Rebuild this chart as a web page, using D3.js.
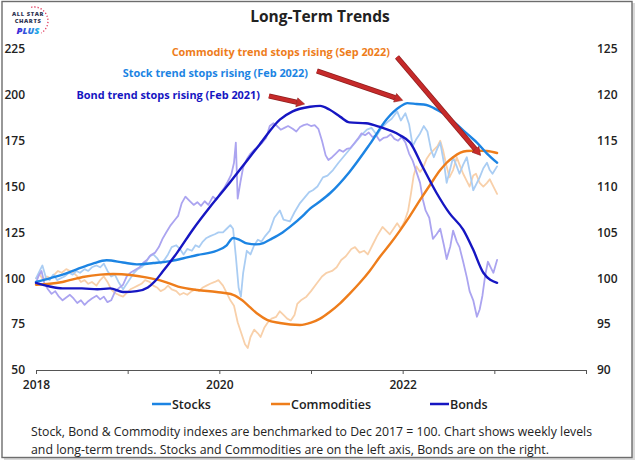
<!DOCTYPE html>
<html><head><meta charset="utf-8">
<script src="https://cdn.jsdelivr.net/npm/d3@7"></script>
<style>body{margin:0;background:#fff}svg{display:block}text{font-family:"Open Sans",sans-serif}</style>
</head><body><svg id="c" width="640" height="466"></svg>
<script>
// ---------- DATA (decimal year, index level; Dec 2017 = 100) ----------
const stocksWeekly = [[2018.00,100],[2018.04,104],[2018.07,107],[2018.11,100],[2018.15,99],[2018.19,102],[2018.23,99],[2018.27,100],[2018.31,101],[2018.36,103],[2018.40,102],[2018.44,104],[2018.48,103],[2018.53,105],[2018.57,104],[2018.61,106],[2018.66,107],[2018.70,106],[2018.74,108],[2018.78,104],[2018.82,101],[2018.86,102],[2018.90,98],[2018.95,94],[2018.99,97],[2019.03,100],[2019.07,103],[2019.11,105],[2019.15,106],[2019.19,108],[2019.24,112],[2019.28,113],[2019.32,111],[2019.36,108],[2019.40,110],[2019.44,113],[2019.48,117],[2019.53,118],[2019.57,116],[2019.61,113],[2019.65,116],[2019.70,115],[2019.74,118],[2019.78,117],[2019.82,120],[2019.86,122],[2019.90,123],[2019.95,124],[2019.99,125],[2020.04,125],[2020.08,127],[2020.12,129],[2020.15,127],[2020.18,112],[2020.21,95],[2020.235,90],[2020.26,103],[2020.30,115],[2020.34,113],[2020.38,118],[2020.42,121],[2020.46,120],[2020.50,123],[2020.55,126],[2020.60,133],[2020.66,137],[2020.70,132],[2020.77,131],[2020.82,136],[2020.88,141],[2020.93,144],[2020.98,147],[2021.02,148],[2021.07,150],[2021.13,155],[2021.18,156],[2021.24,159],[2021.30,163],[2021.35,166],[2021.40,169],[2021.45,172],[2021.50,175],[2021.55,178],[2021.61,181],[2021.66,182],[2021.72,178],[2021.77,182],[2021.83,185],[2021.88,187],[2021.94,191],[2021.98,186],[2022.03,190],[2022.07,184],[2022.11,172],[2022.15,176],[2022.19,179],[2022.23,183],[2022.27,180],[2022.31,170],[2022.34,166],[2022.38,171],[2022.41,174],[2022.45,163],[2022.48,152],[2022.52,160],[2022.55,166],[2022.59,161],[2022.62,157],[2022.66,162],[2022.70,166],[2022.74,156],[2022.77,148],[2022.80,151],[2022.84,155],[2022.88,160],[2022.92,163],[2022.95,159],[2022.98,157],[2023.03,161]];

const stocksTrend = [[2018.00,98],[2018.15,100],[2018.29,102],[2018.45,105],[2018.62,108],[2018.77,109.8],[2018.95,108.6],[2019.10,107.6],[2019.28,108.3],[2019.45,109.2],[2019.60,110.8],[2019.76,112.7],[2019.97,115],[2020.08,118],[2020.15,122],[2020.22,121],[2020.30,119],[2020.40,118.5],[2020.48,119.2],[2020.55,121],[2020.69,125],[2020.77,128],[2020.91,134],[2020.99,138],[2021.10,142],[2021.21,146.5],[2021.42,158],[2021.64,173],[2021.83,187],[2021.97,193.5],[2022.05,195.5],[2022.15,195],[2022.26,194.5],[2022.35,192.5],[2022.44,190],[2022.53,186.5],[2022.62,182.5],[2022.72,178],[2022.81,174],[2022.92,168],[2023.03,163]];

const commoditiesWeekly = [[2018.00,100],[2018.04,102],[2018.08,99],[2018.12,101],[2018.16,100],[2018.20,102],[2018.24,104],[2018.28,103],[2018.33,105],[2018.37,104],[2018.41,103],[2018.45,101],[2018.49,98],[2018.53,99],[2018.57,97],[2018.61,98],[2018.66,96],[2018.70,99],[2018.74,101],[2018.78,98],[2018.82,94],[2018.86,92],[2018.90,91],[2018.95,90],[2018.99,92],[2019.03,94],[2019.07,95],[2019.11,96],[2019.15,97],[2019.19,99],[2019.24,98],[2019.28,96],[2019.32,95],[2019.36,93],[2019.40,94],[2019.44,96],[2019.48,94],[2019.53,93],[2019.57,91],[2019.61,92],[2019.65,91],[2019.70,93],[2019.74,94],[2019.78,93],[2019.82,95],[2019.86,96],[2019.90,97],[2019.95,98],[2019.99,99],[2020.04,96],[2020.08,92],[2020.12,88],[2020.16,85],[2020.20,76],[2020.24,70],[2020.28,64],[2020.31,62],[2020.34,68],[2020.38,72],[2020.42,70],[2020.45,68],[2020.49,73],[2020.53,76],[2020.57,78],[2020.62,79],[2020.66,82],[2020.70,80],[2020.74,78],[2020.78,77],[2020.82,80],[2020.85,86],[2020.89,88],[2020.95,90],[2021.00,93],[2021.06,97],[2021.12,101],[2021.17,103],[2021.23,104],[2021.28,106],[2021.33,110],[2021.38,112],[2021.44,116],[2021.48,117],[2021.53,114],[2021.58,115],[2021.62,113],[2021.67,118],[2021.72,123],[2021.78,128],[2021.82,126],[2021.86,124],[2021.90,127],[2021.94,130],[2021.98,127],[2022.02,131],[2022.06,137],[2022.09,146],[2022.12,156],[2022.15,161],[2022.19,158],[2022.22,160],[2022.26,165],[2022.30,168],[2022.34,170],[2022.38,172],[2022.41,175],[2022.44,170],[2022.47,163],[2022.51,155],[2022.55,159],[2022.59,166],[2022.62,162],[2022.66,157],[2022.70,153],[2022.73,150],[2022.77,156],[2022.80,157],[2022.84,152],[2022.88,150],[2022.92,152],[2022.95,154],[2022.99,150],[2023.03,146]];

const commoditiesTrend = [[2018.00,96.5],[2018.15,97],[2018.29,98],[2018.51,100.7],[2018.70,102],[2018.84,102.3],[2019.03,101.8],[2019.20,100.5],[2019.38,98.5],[2019.55,95.5],[2019.76,93.6],[2019.97,92.5],[2020.15,91],[2020.25,88],[2020.33,84.4],[2020.42,80.5],[2020.52,77.3],[2020.66,75.6],[2020.88,74.5],[2021.00,75.8],[2021.10,78],[2021.20,81.5],[2021.32,86.5],[2021.42,91.5],[2021.53,97.4],[2021.64,104],[2021.75,111.6],[2021.86,118.5],[2021.97,126],[2022.08,134],[2022.19,142.7],[2022.30,151],[2022.41,159],[2022.48,163],[2022.55,166],[2022.63,168.5],[2022.70,169.4],[2022.80,169.6],[2022.92,169.4],[2023.03,168.3]];

const bondsWeekly = [[2018.00,99.5],[2018.03,100.3],[2018.06,100.8],[2018.09,99.5],[2018.13,98.8],[2018.17,98.3],[2018.21,98.6],[2018.25,98.0],[2018.29,97.6],[2018.33,97.9],[2018.37,98.2],[2018.41,97.8],[2018.45,97.3],[2018.49,97.6],[2018.53,97.1],[2018.57,97.5],[2018.61,97.8],[2018.66,98.1],[2018.70,97.7],[2018.74,98.0],[2018.78,97.4],[2018.82,97.6],[2018.86,98.5],[2018.90,98.9],[2018.95,99.3],[2018.99,100.2],[2019.03,100.6],[2019.08,100.9],[2019.13,101.2],[2019.17,101.7],[2019.21,102.0],[2019.25,102.5],[2019.30,102.8],[2019.34,103.4],[2019.38,104.3],[2019.42,105.0],[2019.47,105.8],[2019.51,106.3],[2019.55,106.8],[2019.59,108.2],[2019.63,108.9],[2019.67,108.5],[2019.72,108.0],[2019.76,108.3],[2019.80,107.9],[2019.84,108.4],[2019.88,108.0],[2019.93,108.9],[2019.97,108.6],[2020.01,109.3],[2020.05,109.8],[2020.09,110.5],[2020.13,111.3],[2020.16,112.6],[2020.18,114.8],[2020.20,108.7],[2020.23,110.5],[2020.26,112.1],[2020.30,113.0],[2020.34,113.6],[2020.38,114.0],[2020.43,114.4],[2020.47,114.8],[2020.51,115.3],[2020.55,116.6],[2020.59,116.9],[2020.63,116.6],[2020.67,116.2],[2020.71,116.4],[2020.75,116.6],[2020.80,116.3],[2020.84,116.0],[2020.88,116.5],[2020.92,116.7],[2020.96,116.8],[2021.00,116.6],[2021.04,116.7],[2021.08,116.3],[2021.12,115.0],[2021.16,113.4],[2021.19,112.9],[2021.23,113.2],[2021.27,113.6],[2021.31,114.0],[2021.35,113.8],[2021.39,114.1],[2021.43,114.2],[2021.47,114.7],[2021.51,115.2],[2021.55,115.8],[2021.59,115.6],[2021.63,115.9],[2021.67,115.4],[2021.71,115.6],[2021.75,115.0],[2021.79,115.3],[2021.83,115.4],[2021.87,115.7],[2021.91,115.2],[2021.95,115.0],[2021.99,115.4],[2022.03,114.8],[2022.07,113.6],[2022.11,112.8],[2022.15,111.6],[2022.19,110.4],[2022.22,108.6],[2022.25,107.4],[2022.29,106.6],[2022.33,104.3],[2022.37,104.8],[2022.41,105.4],[2022.45,103.6],[2022.48,102.1],[2022.52,103.5],[2022.55,105.2],[2022.59,104.0],[2022.62,103.4],[2022.66,101.8],[2022.70,100.1],[2022.73,98.6],[2022.77,97.6],[2022.81,95.8],[2022.84,96.6],[2022.87,98.1],[2022.90,100.3],[2022.93,101.8],[2022.96,101.2],[2022.99,100.6],[2023.03,102.0]];

const bondsTrend = [[2018.00,99.5],[2018.15,99.1],[2018.29,98.9],[2018.50,98.9],[2018.67,98.8],[2018.81,98.9],[2018.95,98.5],[2019.10,98.6],[2019.22,99.0],[2019.30,99.7],[2019.38,100.7],[2019.54,102.8],[2019.71,105.3],[2019.90,107.8],[2020.08,110.0],[2020.26,112.3],[2020.44,114.6],[2020.66,117.3],[2020.80,118.2],[2020.99,118.7],[2021.10,118.8],[2021.20,118.4],[2021.32,117.6],[2021.42,117.0],[2021.60,116.9],[2021.75,116.5],[2021.97,115.6],[2022.08,114.8],[2022.22,112.1],[2022.37,109.3],[2022.51,107.1],[2022.66,105.3],[2022.77,103.1],[2022.88,100.6],[2023.03,99.5]];

const xTickYears = [2018, 2019, 2020, 2021, 2022, 2023, 2024];
const xLabelYears = [2018, 2020, 2022];
const leftTicks = [50, 75, 100, 125, 150, 175, 200, 225];
const rightTicks = [90, 95, 100, 105, 110, 115, 120, 125];
const legendNames = ["Stocks", "Commodities", "Bonds"];
const annotations = [
  {text: "Commodity trend stops rising (Sep 2022)", date: 2022.85, value: 167, axis: "L"},
  {text: "Stock trend stops rising (Feb 2022)", date: 2022.00, value: 197, axis: "L"},
  {text: "Bond trend stops rising (Feb 2021)", date: 2020.93, value: 119.0, axis: "R"}
];
const footnote = [
  "Stock, Bond & Commodity indexes are benchmarked to Dec 2017 = 100. Chart shows weekly levels",
  "and long-term trends. Stocks and Commodities are on the left axis, Bonds are on the right."
];

// ---------- STYLE ----------
const C = {
  stock: "#1C84E3", stockRaw: "#AACDF3",
  comm: "#EE7D1B", commRaw: "#F8D0AA",
  bond: "#1616C2", bondRaw: "#ABA4F0",
  arrow: "#C62A2A", text: "#222"
};

const svg = d3.select("#c");
// frame
svg.append("rect").attr("x", 4).attr("y", 3).attr("width", 631).attr("height", 457).attr("fill", "#d9d9d9");
svg.append("rect").attr("x", 2).attr("y", 1.5).attr("width", 630).attr("height", 456)
  .attr("fill", "#fff").attr("stroke", "#6d6d6d").attr("stroke-width", 1.4);

const x = d3.scaleLinear().domain([2018, 2024]).range([36, 586]);
const yL = d3.scaleLinear().domain([50, 225]).range([370, 49]);
const yR = d3.scaleLinear().domain([90, 125]).range([370, 49]);

// title
svg.append("text").attr("x", 320).attr("y", 22).attr("text-anchor", "middle")
  .attr("font-size", 15.5).attr("font-weight", 700).attr("fill", C.text).text("Long-Term Trends");

// logo
const logo = svg.append("g");
logo.append("text").attr("x", 28).attr("y", 15.5).attr("text-anchor", "middle").attr("font-size", 5.8)
  .attr("font-weight", 800).attr("fill", "#2f3553").attr("letter-spacing", 0.6).text("ALL STAR");
logo.append("text").attr("x", 28).attr("y", 22.5).attr("text-anchor", "middle").attr("font-size", 5.8)
  .attr("font-weight", 800).attr("fill", "#2f3553").attr("letter-spacing", 0.6).text("CHARTS");
const grad = svg.append("defs").append("linearGradient").attr("id", "pg");
grad.append("stop").attr("offset", "0%").attr("stop-color", "#3b1fd6");
grad.append("stop").attr("offset", "100%").attr("stop-color", "#1fb8e8");
logo.append("text").attr("x", 28).attr("y", 33.5).attr("text-anchor", "middle").attr("font-size", 9.5)
  .attr("font-weight", 800).attr("fill", "url(#pg)").attr("font-style", "italic").text("PLUS");
logo.append("path").attr("d", d3.arc()({innerRadius: 14, outerRadius: 14, startAngle: -0.2, endAngle: 2.6}))
  .attr("transform", "translate(34,21)").attr("fill", "none").attr("stroke", "#e0375a")
  .attr("stroke-width", 1.3).attr("stroke-dasharray", "1.2 2");

// axes
const xAxis = d3.axisBottom(x).tickValues(xTickYears).tickSize(4).tickSizeOuter(4).tickPadding(6)
  .tickFormat(d => xLabelYears.includes(d) ? String(d) : "");
const gx = svg.append("g").attr("transform", "translate(0,370)").call(xAxis);
gx.select(".domain").attr("stroke", "#555");
gx.selectAll(".tick line").attr("stroke", "#555");
gx.selectAll("text").attr("font-size", 12).attr("fill", C.text).attr("font-weight", 600)
  .attr("font-family", "'Open Sans',sans-serif");

const gl = svg.append("g").attr("transform", "translate(36,0)")
  .call(d3.axisLeft(yL).tickValues(leftTicks).tickSize(0).tickPadding(11));
const gr = svg.append("g").attr("transform", "translate(586,0)")
  .call(d3.axisRight(yR).tickValues(rightTicks).tickSize(0).tickPadding(11));
[gl, gr].forEach(g => {
  g.select(".domain").remove();
  g.selectAll("text").attr("font-size", 12).attr("fill", C.text).attr("font-weight", 600)
    .attr("font-family", "'Open Sans',sans-serif");
});

// lines
const lineL = d3.line().x(d => x(d[0])).y(d => yL(d[1]));
const lineR = d3.line().x(d => x(d[0])).y(d => yR(d[1]));
const smoothL = d3.line().x(d => x(d[0])).y(d => yL(d[1])).curve(d3.curveMonotoneX);
const smoothR = d3.line().x(d => x(d[0])).y(d => yR(d[1])).curve(d3.curveMonotoneX);

const plot = svg.append("g").attr("fill", "none").attr("stroke-linejoin", "round").attr("stroke-linecap", "round");
plot.append("path").attr("d", lineL(commoditiesWeekly)).attr("stroke", C.commRaw).attr("stroke-width", 1.8);
plot.append("path").attr("d", lineL(stocksWeekly)).attr("stroke", C.stockRaw).attr("stroke-width", 1.8);
plot.append("path").attr("d", lineR(bondsWeekly)).attr("stroke", C.bondRaw).attr("stroke-width", 1.8);
plot.append("path").attr("d", smoothL(commoditiesTrend)).attr("stroke", C.comm).attr("stroke-width", 2.4);
plot.append("path").attr("d", smoothL(stocksTrend)).attr("stroke", C.stock).attr("stroke-width", 2.4);
plot.append("path").attr("d", smoothR(bondsTrend)).attr("stroke", C.bond).attr("stroke-width", 2.4);

// annotations
const annColors = [C.comm, C.stock, C.bond];
const textPos = [[390, 56], [308, 77], [260, 99]];
const tails = [[397, 57], [317, 71], [269, 96]];
annotations.forEach((a, i) => {
  svg.append("text").attr("x", textPos[i][0]).attr("y", textPos[i][1]).attr("text-anchor", "end")
    .attr("font-size", 10.9).attr("font-weight", 700).attr("fill", annColors[i]).text(a.text);
  const tx = x(a.date), ty = (a.axis === "L" ? yL : yR)(a.value);
  const [sx, sy] = tails[i];
  const ang = Math.atan2(ty - sy, tx - sx);
  const hl = 8, hw = 4.5;
  const bx = tx - hl * Math.cos(ang), by = ty - hl * Math.sin(ang);
  svg.append("line").attr("x1", sx).attr("y1", sy).attr("x2", bx).attr("y2", by)
    .attr("stroke", "#8f1f1f").attr("stroke-width", 5.2).attr("stroke-linecap", "butt");
  svg.append("line").attr("x1", sx).attr("y1", sy).attr("x2", bx).attr("y2", by)
    .attr("stroke", C.arrow).attr("stroke-width", 3.8).attr("stroke-linecap", "butt");
  const px = -Math.sin(ang), py = Math.cos(ang);
  svg.append("polygon").attr("points", [[tx, ty], [bx + px * hw, by + py * hw], [bx - px * hw, by - py * hw]].map(p => p.join(",")).join(" "))
    .attr("fill", C.arrow).attr("stroke", "#8f1f1f").attr("stroke-width", 0.6);
});

// legend
const legX = [152, 271, 430];
const legColors = [C.stock, C.comm, C.bond];
legendNames.forEach((n, i) => {
  svg.append("line").attr("x1", legX[i]).attr("x2", legX[i] + 19).attr("y1", 404).attr("y2", 404)
    .attr("stroke", legColors[i]).attr("stroke-width", 2.5);
  svg.append("text").attr("x", legX[i] + 20).attr("y", 408.5).attr("font-size", 12.5)
    .attr("font-weight", 600).attr("fill", C.text).text(n);
});

// footnote
footnote.forEach((t, i) => {
  svg.append("text").attr("x", 31).attr("y", 436 + i * 18).attr("font-size", 12)
    .attr("fill", C.text).attr("textLength", i === 0 ? 561 : 518).attr("lengthAdjust", "spacingAndGlyphs").text(t);
});
</script></body></html>
